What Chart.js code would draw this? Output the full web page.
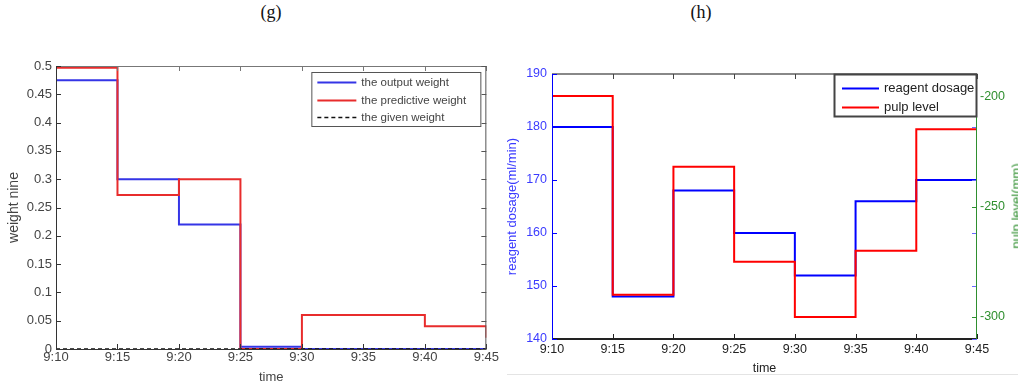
<!DOCTYPE html>
<html>
<head>
<meta charset="utf-8">
<script src="https://cdn.jsdelivr.net/npm/chart.js@4.4.1/dist/chart.umd.min.js"></script>
<style>
  html, body { margin: 0; padding: 0; background: #fff; }
  body { width: 1018px; height: 386px; position: relative; overflow: hidden; font-family: "Liberation Sans", Arial, sans-serif; }
  .panel { position: absolute; top: 0; height: 386px; }
  #weightWrap { left: 0; width: 500px; filter: blur(0.35px); }
  #dosageWrap { left: 500px; width: 518px; }
  .tag { position: absolute; top: 2px; font: 18px "Liberation Serif", "Times New Roman", serif; color: #111; transform: translateX(-50%); }
  #pulpTitle { position: absolute; left: 1016px; top: 206px; font-size: 13px; color: #2f8f2f; white-space: nowrap; transform: translate(-50%, -50%) rotate(-90deg); }
  #rule { position: absolute; left: 507px; top: 374px; width: 511px; height: 1px; background: #e4e4e4; }
</style>
</head>
<body>
<div class="tag" style="left:271px">(g)</div>
<div class="tag" style="left:701px">(h)</div>
<div class="panel" id="weightWrap"><canvas id="weightChart"></canvas></div>
<div class="panel" id="dosageWrap"><canvas id="dosageChart"></canvas></div>
<div id="pulpTitle">pulp level(mm)</div>
<div id="rule"></div>
<script>
// shared time axis (minutes after 9:10)
const tickMinutes = [0, 5, 10, 15, 20, 25, 30, 35];
const timeLabels = ["9:10", "9:15", "9:20", "9:25", "9:30", "9:35", "9:40", "9:45"];

// (g) weights, one value per 5-minute step, last entry is the value after 9:45
const outputWeight = [0.475, 0.30, 0.22, 0.004, 0, 0, 0, 0];
const predictiveWeight = [0.497, 0.272, 0.30, 0, 0.06, 0.06, 0.04, 0.02];
const givenWeight = [0, 0, 0, 0, 0, 0, 0, 0];
const weightTicks = [0, 0.05, 0.1, 0.15, 0.2, 0.25, 0.3, 0.35, 0.4, 0.45, 0.5];

// (h) dosage vs pulp level
const reagentDosage = [180, 148, 168, 160, 152, 166, 170, 170];
const pulpLevel = [-200, -290, -232, -275, -300, -270, -215, -215];
const dosageTicks = [140, 150, 160, 170, 180, 190];
const pulpTicks = [-300, -250, -200];

const FONT = '"Liberation Sans", Arial, sans-serif';

function steps(values) {
  return tickMinutes.map((m, i) => ({ x: m, y: values[i] }));
}

// axis box with inward tick marks, matlab style
const boxAxes = {
  id: "boxAxes",
  afterDatasetsDraw(chart, args, opts) {
    if (!opts.sides) return;
    const { ctx, chartArea: a } = chart;
    const len = opts.tickLength || 5;
    ctx.save();
    for (const side of opts.sides) {
      const scale = chart.scales[side.scale];
      ctx.lineWidth = side.width || 1;
      const off = ctx.lineWidth % 2 ? 0.5 : 0;
      if (side.line !== false) {
        ctx.strokeStyle = side.color;
        ctx.beginPath();
        if (side.edge === "bottom") { ctx.moveTo(a.left, a.bottom + off); ctx.lineTo(a.right, a.bottom + off); }
        if (side.edge === "top") { ctx.moveTo(a.left, a.top + off); ctx.lineTo(a.right, a.top + off); }
        if (side.edge === "left") { ctx.moveTo(a.left + off, a.top); ctx.lineTo(a.left + off, a.bottom); }
        if (side.edge === "right") { ctx.moveTo(a.right - off, a.top); ctx.lineTo(a.right - off, a.bottom); }
        ctx.stroke();
      }
      ctx.lineWidth = 1;
      ctx.strokeStyle = side.tickColor || side.color;
      ctx.beginPath();
      for (const t of scale.ticks) {
        const p = Math.round(scale.getPixelForValue(t.value)) + 0.5;
        if (side.edge === "bottom") { ctx.moveTo(p, a.bottom); ctx.lineTo(p, a.bottom - len); }
        if (side.edge === "top") { ctx.moveTo(p, a.top); ctx.lineTo(p, a.top + len); }
        if (side.edge === "left") { ctx.moveTo(a.left, p); ctx.lineTo(a.left + len, p); }
        if (side.edge === "right") { ctx.moveTo(a.right, p); ctx.lineTo(a.right - len, p); }
      }
      ctx.stroke();
    }
    ctx.restore();
  }
};

// boxed legend inside the plot, top right corner
const boxLegend = {
  id: "boxLegend",
  afterDraw(chart, args, o) {
    if (!o.width) return;
    const { ctx, chartArea: a } = chart;
    const x = a.right - o.right - o.width;
    const y = a.top + o.top;
    ctx.save();
    ctx.fillStyle = "#fff";
    ctx.fillRect(x, y, o.width, o.height);
    ctx.strokeStyle = o.borderColor;
    ctx.lineWidth = o.borderWidth;
    ctx.strokeRect(x + 0.5, y + 0.5, o.width - 1, o.height - 1);
    ctx.font = o.font;
    ctx.textBaseline = "middle";
    chart.data.datasets.forEach((ds, i) => {
      const cy = Math.round(y + o.firstRow + i * o.rowHeight) + 0.5;
      ctx.strokeStyle = ds.borderColor;
      ctx.lineWidth = ds.borderWidth;
      ctx.setLineDash(ds.borderDash || []);
      ctx.beginPath();
      ctx.moveTo(x + o.lineStart, cy);
      ctx.lineTo(x + o.lineStart + o.lineLength, cy);
      ctx.stroke();
      ctx.setLineDash([]);
      ctx.fillStyle = o.color;
      ctx.fillText(ds.label, x + o.textStart, cy);
    });
    ctx.restore();
  }
};

function timeAxis(opts) {
  return {
    type: "linear",
    min: 0,
    max: 35,
    afterBuildTicks: s => { s.ticks = tickMinutes.map(v => ({ value: v })); },
    afterFit: s => { s.height = opts.height; },
    grid: { display: false, drawTicks: false },
    border: { display: false },
    ticks: {
      autoSkip: false,
      maxRotation: 0,
      padding: opts.padding,
      color: opts.color,
      font: { family: FONT, size: opts.size },
      callback: v => timeLabels[tickMinutes.indexOf(v)]
    },
    title: {
      display: true,
      text: "time",
      color: opts.color,
      font: { family: FONT, size: opts.size },
      padding: { top: 0, bottom: opts.titleBottom }
    }
  };
}

const stepLine = { stepped: "before", pointRadius: 0, borderJoinStyle: "miter", fill: false };

new Chart(document.getElementById("weightChart"), {
  type: "line",
  data: {
    datasets: [
      { ...stepLine, label: "the output weight", data: steps(outputWeight), borderColor: "#3535e6", borderWidth: 2, order: 2 },
      { ...stepLine, label: "the predictive weight", data: steps(predictiveWeight), borderColor: "#e82c2c", borderWidth: 2, order: 1 },
      { ...stepLine, label: "the given weight", data: steps(givenWeight), borderColor: "#111", borderWidth: 1.5, borderDash: [4, 3], order: 0 }
    ]
  },
  options: {
    responsive: true,
    maintainAspectRatio: false,
    animation: false,
    events: [],
    layout: { padding: { top: 66, right: 13, left: 0, bottom: 0 } },
    scales: {
      x: timeAxis({ height: 37, padding: 1, color: "#444", size: 13, titleBottom: 1 }),
      y: {
        min: 0,
        max: 0.5,
        afterBuildTicks: s => { s.ticks = weightTicks.map(v => ({ value: v })); },
        afterFit: s => { s.width = 56; },
        grid: { display: false, drawTicks: false },
        border: { display: false },
        ticks: { padding: 4, color: "#444", font: { family: FONT, size: 13 }, callback: v => String(v) },
        title: { display: true, text: "weight nine", color: "#444", font: { family: FONT, size: 14 }, padding: { top: 6, bottom: 0 } }
      }
    },
    plugins: {
      legend: { display: false },
      tooltip: { enabled: false },
      boxAxes: {
        tickLength: 5,
        sides: [
          { edge: "bottom", scale: "x", color: "#333" },
          { edge: "top", scale: "x", color: "#777" },
          { edge: "left", scale: "y", color: "#333" },
          { edge: "right", scale: "y", color: "#555" }
        ]
      },
      boxLegend: {
        width: 170, height: 55, right: 5, top: 6,
        firstRow: 10, rowHeight: 17.5, lineStart: 6, lineLength: 39, textStart: 50,
        font: "11.5px " + FONT, color: "#444", borderColor: "#555", borderWidth: 1
      }
    }
  },
  plugins: [boxAxes, boxLegend]
});

new Chart(document.getElementById("dosageChart"), {
  type: "line",
  data: {
    datasets: [
      { ...stepLine, label: "reagent dosage", data: steps(reagentDosage), yAxisID: "y", borderColor: "#0000ff", borderWidth: 2, order: 1 },
      { ...stepLine, label: "pulp level", data: steps(pulpLevel), yAxisID: "y2", borderColor: "#ff0000", borderWidth: 2, order: 0 }
    ]
  },
  options: {
    responsive: true,
    maintainAspectRatio: false,
    animation: false,
    events: [],
    layout: { padding: { top: 74, right: 0, left: 0, bottom: 0 } },
    scales: {
      x: timeAxis({ height: 47, padding: 3, color: "#222", size: 12.5, titleBottom: 10 }),
      y: {
        position: "left",
        min: 140,
        max: 190,
        afterBuildTicks: s => { s.ticks = dosageTicks.map(v => ({ value: v })); },
        afterFit: s => { s.width = 52; },
        grid: { display: false, drawTicks: false },
        border: { display: false },
        ticks: { padding: 5, color: "#3b3bff", font: { family: FONT, size: 12.5 }, callback: v => String(v) },
        title: { display: true, text: "reagent dosage(ml/min)", color: "#3b3bff", font: { family: FONT, size: 13 }, padding: { top: 5, bottom: 0 } }
      },
      y2: {
        position: "right",
        min: -310,
        max: -190,
        afterBuildTicks: s => { s.ticks = pulpTicks.map(v => ({ value: v })); },
        afterFit: s => { s.width = 41; },
        grid: { display: false, drawTicks: false },
        border: { display: false },
        ticks: { padding: 3, color: "#2f8f2f", font: { family: FONT, size: 12.5 }, callback: v => String(v) }
      }
    },
    plugins: {
      legend: { display: false },
      tooltip: { enabled: false },
      boxAxes: {
        tickLength: 5,
        sides: [
          { edge: "bottom", scale: "x", color: "#222", width: 2 },
          { edge: "top", scale: "x", color: "#888", width: 2, tickColor: "#444" },
          { edge: "left", scale: "y", color: "#0000ff" },
          { edge: "right", scale: "y", color: "#6a6aff", line: false },
          { edge: "right", scale: "y2", color: "#2f8f2f" }
        ]
      },
      boxLegend: {
        width: 143, height: 43, right: 0, top: 0,
        firstRow: 13.5, rowHeight: 19, lineStart: 8, lineLength: 37, textStart: 50,
        font: "13px " + FONT, color: "#222", borderColor: "#444", borderWidth: 2
      }
    }
  },
  plugins: [boxAxes, boxLegend]
});
</script>
</body>
</html>
